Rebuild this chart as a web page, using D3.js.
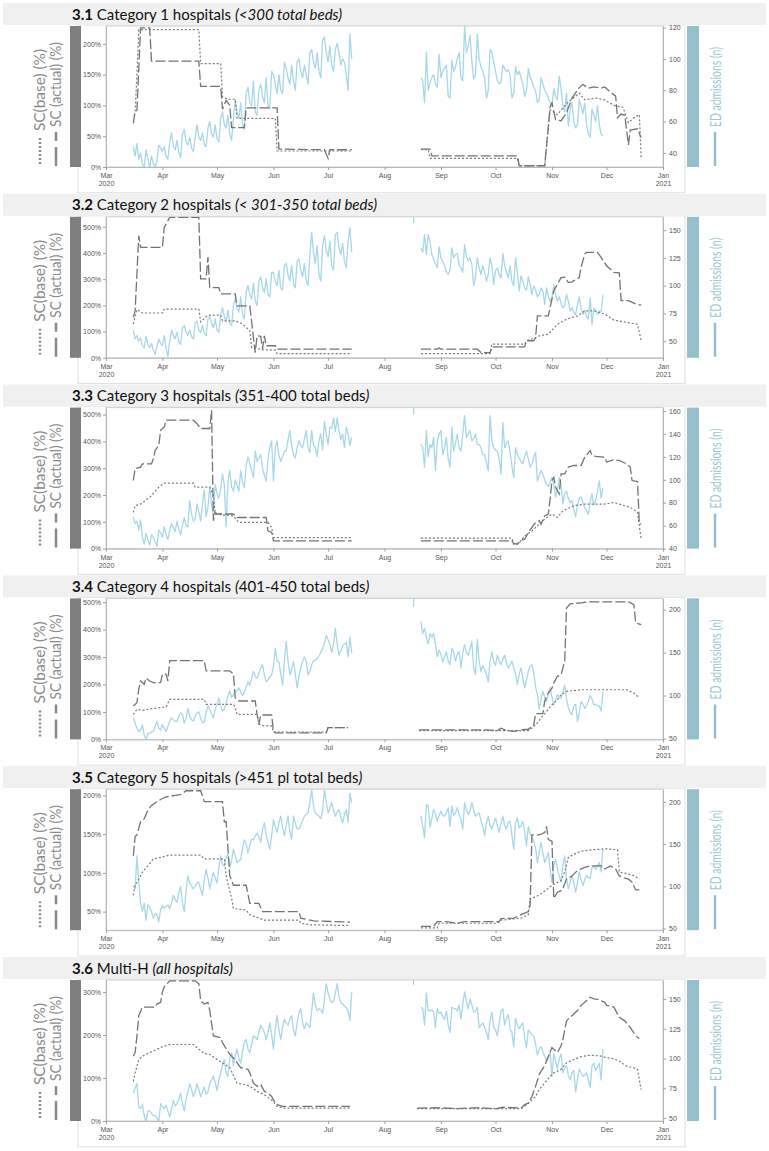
<!DOCTYPE html>
<html>
<head>
<meta charset="utf-8">
<script src="https://cdn.jsdelivr.net/npm/d3@7/dist/d3.min.js"></script>
<style>
  body { margin: 0; background: #fff; }
  svg { display: block; font-family: Lato, "Open Sans", sans-serif; }
</style>
</head>
<body>
<svg id="chart" width="769" height="1151"></svg>
<script>
// ---------- panel labels ----------
const panelIds = ["3.1", "3.2", "3.3", "3.4", "3.5", "3.6"];
const panelNames = ["Category 1 hospitals", "Category 2 hospitals", "Category 3 hospitals",
                    "Category 4 hospitals", "Category 5 hospitals", "Multi-H"];
// [text, italic]
const panelNotes = [
  [["(<300 total beds)", true]],
  [["(< 301-350 total beds)", true]],
  [["(", true], ["351-400 total beds", false], [")", true]],
  [["(", true], ["401-450 total beds", false], [")", true]],
  [["(", true], [">451 pl total beds", false], [")", true]],
  [["(all hospitals)", true]]
];

// ---------- axes ----------
const scDomains = [[0, 229], [0, 538], [0, 526], [0, 514], [26, 208], [0, 328]];
const scTicks = [[0, 50, 100, 150, 200], [0, 100, 200, 300, 400, 500], [0, 100, 200, 300, 400, 500],
                 [0, 100, 200, 300, 400, 500], [50, 100, 150, 200], [0, 100, 200, 300]];
const edDomains = [[31, 121], [35, 162], [40, 163], [49, 213], [48, 215], [47.5, 166]];
const edTicks = [[40, 60, 80, 100, 120], [50, 75, 100, 125, 150], [40, 60, 80, 100, 120, 140, 160],
                 [50, 100, 150, 200], [50, 100, 150, 200], [50, 75, 100, 125, 150]];

// ---------- ED admissions (n), daily ----------
const edSpringStart = "2020-03-16";
const edAutumnStart = "2020-08-21";
const edStrayDay = "2020-08-17";
const edStray = [null, 156, 157, 203, null, 162];

const ed1Spring = [44,38,46,36,40,33,31, 42,36,31,38,33,31,35, 45,43,41,44,38,36,47, 53,44,42,48,40,37,52,
  55,47,45,50,43,41,50, 58,50,48,53,45,44,56, 60,52,50,58,49,47,62, 66,58,56,64,52,48,62,
  74,66,62,72,58,55,78, 82,72,70,86,66,64,80, 84,76,72,88,70,68,92, 90,84,78,90,80,78,98,
  94,88,84,96,86,80,98, 100,92,88,96,90,84,104, 106,98,94,104,92,88,112, 114,104,98,108,96,92,106,
  110,104,96,100,98,90,80, 116,100];
const ed1Autumn = [88,86,72,104,80,85,88, 90,84,82,103,88,92,94, 96,76,75,99,92,95,100, 104,88,86,121,104,108,115,
  98,87,90,116,100,95,92, 88,75,80,106,104,98,92, 86,84,85,96,94,92,93, 90,75,78,95,90,92,88,
  84,76,80,94,88,86,82, 80,72,74,88,84,80,78, 75,72,70,81,76,74,89, 81,70,66,78,57,68,72,
  60,56,58,74,70,65,72, 58,52,50,68,64,60,70, 58,52,51];

const ed2Spring = [60,52,55,50,53,46,44, 54,47,44,48,42,38,45, 52,48,46,55,44,36,50, 60,55,52,58,50,47,62,
  64,58,55,60,54,52,66, 68,60,58,64,57,55,70, 72,66,62,70,60,58,74, 80,72,68,78,66,64,82,
  88,80,76,90,74,70,94, 100,92,88,102,86,82,104, 108,98,94,106,92,90,112, 112,104,100,114,98,96,118,
  120,110,104,118,102,98,122, 124,114,108,120,104,100,128, 148,130,120,136,110,104,136, 145,132,126,140,118,114,146,
  148,134,128,138,122,116,140, 152,130];
const ed2Autumn = [134,130,146,128,146,140,128, 124,120,116,135,125,122,118, 112,110,114,134,125,128,129,
  118,116,112,137,126,122,125, 119,100,108,125,116,110,118, 112,104,110,125,118,101,114,
  116,110,107,129,118,112,107, 118,104,100,125,112,95,109, 104,98,96,108,101,92,100,
  96,90,92,98,95,83,98, 90,86,89,101,92,86,90, 84,80,82,92,86,77,80, 76,74,83,90,80,74,78,
  72,70,89,65,80,78,74, 77,76,92];

const ed3Spring = [68,62,64,56,65,50,44, 53,48,43,52,50,46,42, 56,54,50,59,52,48,56, 62,58,55,64,57,52,60,
  67,60,59,82,70,64,66, 79,72,64,79,91,68,76, 94,78,69,96,88,84,92, 105,96,59,99,108,94,90,
  100,95,90,108,98,93,112, 120,114,108,102,125,116,119, 122,110,104,99,118,128,134, 99,128,134,122,116,120,125,
  125,135,143,130,122,119,128, 134,130,128,136,143,128,124, 143,130,128,120,134,140,126, 151,140,131,146,145,154,142,
  154,143,135,140,128,146,140, 130,137];
const ed3Autumn = [131,128,111,143,120,131,128,137,108,134, 140,143,122,128,137,118,111,146,125,132,
  140,128,125,140,156,137,140,143,134,136, 140,131,131,128,122,122,115,108,156,134,
  128,126,125,118,105,150,128,132,134,124, 112,102,128,122,119,116,114,120,125,118,
  111,114,120,124,99,104,108,105,100,96, 94,98,102,96,85,92,102,96,79,88,
  90,84,80,82,74,68,78,84,85,80, 76,73,70,80,88,78,82,90,99,84, 93];

const ed4Spring = [74,68,62,58,60,66,54,48,56,56, 58,58,64,70,62,60,66,62,58,64,
  70,74,72,70,70,76,80,78,68,74, 85,76,72,70,76,80,81,74,68,70,
  80,88,84,78,74,84,90,97,88,82, 84,92,100,105,98,101,104,106,109,104,
  100,104,110,116,112,120,128,122,120,126, 132,136,124,116,118,122,124,134,155,140,
  139,125,112,140,163,140,124,130,140,125, 109,122,132,140,145,140,124,128,136,140,
  141,143,146,150,155,160,170,165,160,150, 160,178,160,147,152,158,160,162,145,168, 150];
const ed4Autumn = [186,172,178,168,160,172,168,172,160,145, 153,148,139,145,151,140,136,155,150,140,
  148,151,132,150,159,150,147,155,163,132, 124,165,140,128,135,130,125,116,140,151,
  139,135,147,140,136,142,147,138,132,136, 140,132,125,113,125,132,120,109,118,128,
  134,136,126,110,101,84,96,105,98,93, 102,109,98,89,95,101,98,97,104,112,
  96,86,80,78,88,90,70,80,93,90, 85,88,93,100,96,89,90,88,88,82, 104];

const ed5Spring = [101,97,136,105,80,70,80,60,78,75, 70,62,68,66,58,72,77,74,76,78,
  73,80,89,84,81,92,100,80,70,95, 112,104,100,97,100,104,105,96,89,108,
  120,110,97,108,116,110,104,122,136,126, 124,135,138,122,130,144,136,128,130,132,
  145,155,150,140,148,156,155,160,163,158, 152,168,175,160,152,144,160,179,170,164,
  175,183,170,160,172,183,165,156,183,175, 168,168,172,178,183,185,187,200,214,195,
  187,185,183,180,190,214,200,187,192,199, 190,183,188,191,182,175,185,191,176,210, 199];
const ed5Autumn = [183,171,158,197,195,170,180,191,185,177, 184,189,184,183,187,193,171,195,184,187,
  193,185,179,168,199,190,185,189,199,190, 183,185,187,178,171,160,175,183,172,168,
  175,181,172,164,174,183,172,168,176,177, 160,144,175,181,169,172,177,165,148,171,
  162,158,154,145,128,140,152,140,128,134, 140,120,105,125,132,121,112,105,125,136,
  109,97,105,113,104,93,104,117,108,101, 108,113,110,109,122,124,120,124,128,117, 144];

const ed6Spring = [71,75,79,59,58,61,52,47,56,56, 54,52,52,50,47,62,60,58,61,56,
  51,58,65,60,62,66,71,62,56,66, 72,79,74,68,72,79,74,68,72,76,
  70,72,79,82,85,80,73,82,88,95, 99,88,85,100,105,94,102,108,100,96,
  106,114,116,108,105,112,119,118,116,122, 128,125,122,116,122,130,120,108,125,136,
  124,116,126,133,130,128,133,136,124,119, 130,138,142,130,125,130,128,126,140,155,
  145,140,142,141,138,150,163,155,150,147, 148,155,163,152,147,146,144,143,140,132, 156];
const ed6Autumn = [143,142,128,155,140,140,141,139,126,142, 138,139,135,133,140,128,122,143,142,142,
  140,145,133,145,156,148,142,150,145,139, 140,143,126,128,130,126,122,116,132,139,
  126,124,119,130,140,142,128,134,137,125, 122,110,134,128,125,128,130,118,109,124,
  122,120,119,112,103,108,110,106,102,98, 100,106,85,104,98,91,100,104,88,92,
  94,86,82,88,90,72,82,91,88,85, 86,88,82,76,94,96,90,93,96,82, 108];

// ---------- SC(actual) and SC(base), % : [date, value] ----------
const sc1ActualSpring = [["03-16",71],["03-17",90],["03-18",92],["03-20",226],["03-25",226],["03-26",172],["04-21",172],
  ["04-22",131],["05-03",131],["05-04",94],["05-06",108],["05-08",100],["05-09",64],["05-16",64],["05-17",96],
  ["06-03",96],["06-04",29],["06-29",28],["07-01",14],["07-02",28],["07-14",28]];
const sc1BaseSpring = [["03-17",90],["03-18",150],["03-19",223],["04-21",223],["04-22",168],["05-03",168],["05-04",114],
  ["05-07",110],["05-11",110],["05-12",79],["06-02",79],["06-03",26],["07-14",26]];
const sc1ActualAutumn = [["08-21",29],["08-26",29],["08-27",18],["10-13",18],["10-14",2],["10-28",2],["10-31",98],
  ["11-01",104],["11-03",77],["11-06",75],["11-09",88],["11-12",112],["11-16",129],["11-18",134],["11-21",128],
  ["11-24",130],["11-28",128],["11-30",130],["12-03",122],["12-06",115],["12-07",80],["12-09",86],["12-11",84],
  ["12-13",36],["12-14",60],["12-18",62],["12-20",48]];
const sc1BaseAutumn = [["08-21",28],["08-25",28],["08-26",14],["10-13",14],["10-14",2],["10-28",2],["10-31",93],
  ["11-04",85],["11-09",103],["11-16",120],["11-19",109],["11-25",112],["11-30",109],["12-05",100],["12-10",97],
  ["12-13",72],["12-16",80],["12-19",85],["12-20",16]];

const sc2ActualSpring = [["03-16",154],["03-17",180],["03-19",466],["03-20",421],["04-01",421],["04-02",497],["04-05",536],
  ["04-21",536],["04-22",301],["04-25",301],["04-26",384],["04-27",268],["05-02",268],["05-03",244],["05-11",244],
  ["05-12",198],["05-19",198],["05-21",77],["05-22",20],["05-23",84],["05-25",82],["05-26",34],["05-27",84],
  ["05-28",46],["06-02",46],["06-03",33],["07-14",33]];
const sc2BaseSpring = [["03-16",129],["03-18",184],["03-21",171],["04-01",171],["04-02",186],["04-21",186],["04-22",137],
  ["04-26",163],["05-03",163],["05-04",141],["05-11",141],["05-15",129],["05-19",104],["05-20",39],["05-27",30],
  ["06-02",30],["06-03",16],["07-14",16]];
const sc2ActualAutumn = [["08-21",33],["08-30",33],["08-31",37],["09-01",33],["09-21",33],["09-23",20],["09-28",20],
  ["09-29",42],["10-17",42],["10-18",65],["10-22",65],["10-23",77],["10-24",160],["10-30",160],["10-31",192],
  ["11-02",256],["11-06",306],["11-08",308],["11-10",287],["11-12",290],["11-16",306],["11-17",345],["11-19",396],
  ["11-20",402],["11-26",402],["11-28",383],["12-01",351],["12-03",339],["12-05",326],["12-08",324],["12-09",218],
  ["12-13",218],["12-18",202],["12-20",202]];
const sc2BaseAutumn = [["08-21",16],["09-28",16],["09-29",52],["10-17",52],["10-18",65],["10-23",77],["10-25",84],
  ["10-30",90],["11-04",128],["11-09",147],["11-15",160],["11-19",179],["11-24",179],["11-30",167],["12-05",144],
  ["12-12",135],["12-18",128],["12-20",65]];

const sc3ActualSpring = [["03-16",254],["03-17",298],["03-20",304],["03-21",316],["03-26",316],["03-27",335],["03-28",366],
  ["03-30",385],["03-31",441],["04-02",454],["04-03",479],["04-18",479],["04-20",466],["04-22",448],["04-27",448],
  ["04-28",516],["04-29",104],["04-30",135],["05-01",129],["05-10",129],["05-12",116],["05-28",116],["05-29",66],
  ["05-31",60],["06-01",29],["07-14",29]];
const sc3BaseSpring = [["03-16",135],["03-17",160],["03-20",166],["03-25",191],["03-30",229],["04-02",244],["04-18",244],
  ["04-19",229],["04-27",229],["04-28",210],["04-29",198],["04-30",129],["05-10",122],["05-13",98],["05-29",98],
  ["05-31",79],["06-01",41],["07-14",41]];
const sc3ActualAutumn = [["08-21",29],["10-10",29],["10-11",19],["10-13",16],["10-15",31],["10-17",35],["10-19",60],
  ["10-21",79],["10-23",97],["10-25",104],["10-26",91],["10-28",122],["10-30",129],["10-31",185],["11-01",254],
  ["11-02",266],["11-03",229],["11-05",204],["11-06",279],["11-08",279],["11-10",304],["11-13",310],["11-17",310],
  ["11-19",341],["11-22",366],["11-23",348],["11-25",344],["11-30",341],["12-01",323],["12-05",331],["12-08",329],
  ["12-12",316],["12-14",304],["12-15",254],["12-18",250],["12-19",91],["12-20",91]];
const sc3BaseAutumn = [["08-21",39],["10-10",39],["10-11",16],["10-14",22],["10-17",47],["10-21",66],["10-25",91],
  ["10-28",110],["11-01",129],["11-04",116],["11-07",141],["11-13",160],["11-19",166],["11-30",166],["12-05",172],
  ["12-08",166],["12-14",154],["12-18",135],["12-20",35]];

const sc4ActualSpring = [["03-16",122],["03-18",134],["03-19",183],["03-20",213],["03-22",201],["03-23",223],["03-25",213],
  ["03-27",207],["03-31",207],["04-01",238],["04-03",238],["04-04",213],["04-05",287],["04-24",287],["04-25",250],
  ["05-08",250],["05-10",238],["05-11",152],["05-13",140],["05-22",140],["05-23",91],["05-24",55],["05-25",89],
  ["05-31",89],["06-01",30],["06-02",24],["06-30",24],["07-01",43],["07-12",43]];
const sc4BaseSpring = [["03-16",91],["03-18",110],["03-21",106],["03-27",113],["04-03",118],["04-05",146],["04-24",146],
  ["04-25",128],["05-10",128],["05-11",116],["05-12",91],["05-23",91],["05-24",55],["05-27",49],["05-31",49],
  ["06-01",27],["06-30",27],["07-01",43],["07-12",43]];
const sc4ActualAutumn = [["08-20",35],["09-26",35],["10-02",32],["10-04",41],["10-07",32],["10-11",29],["10-15",35],
  ["10-19",37],["10-22",53],["10-23",94],["10-27",94],["10-28",139],["10-30",169],["11-01",187],["11-02",206],
  ["11-04",230],["11-06",236],["11-08",285],["11-09",479],["11-11",494],["11-17",498],["11-21",501],["12-13",501],
  ["12-16",491],["12-17",425],["12-20",418]];
const sc4BaseAutumn = [["08-20",32],["10-19",32],["10-22",47],["10-24",60],["10-26",78],["10-29",102],["11-01",126],
  ["11-04",145],["11-06",163],["11-09",175],["11-13",178],["11-17",181],["12-12",181],["12-16",169],["12-19",151]];

const sc5ActualSpring = [["03-16",122],["03-17",147],["03-18",149],["03-20",166],["03-22",170],["03-24",181],["03-26",187],
  ["03-29",192],["04-01",196],["04-03",198],["04-08",200],["04-11",201],["04-14",206],["04-22",206],["04-24",192],
  ["05-04",192],["05-05",166],["05-06",166],["05-08",96],["05-10",84],["05-17",84],["05-19",60.5],["05-24",60.5],
  ["05-26",50],["06-15",50],["06-16",41.5],["06-21",39],["06-23",38],["07-13",36.5]];
const sc5BaseSpring = [["03-16",71],["03-17",84],["03-19",92],["03-21",101],["03-24",109],["03-27",118],["03-31",120],
  ["04-05",123],["04-22",123],["04-24",118],["05-05",118],["05-06",96],["05-09",67],["05-10",54],["05-17",52],
  ["05-19",46],["05-27",39],["06-15",39],["06-16",35],["06-21",33],["07-13",32]];
const sc5ActualAutumn = [["08-21",31],["08-28",31],["08-30",37],["09-04",37],["09-10",35],["09-14",37],["10-03",37],
  ["10-04",41],["10-11",41.5],["10-15",46],["10-19",50],["10-20",58],["10-21",149],["10-25",149],["10-28",152],
  ["10-29",160],["10-30",143],["11-01",141],["11-02",67],["11-04",75],["11-06",77],["11-07",80],["11-09",92],
  ["11-12",96],["11-15",103],["11-19",107],["11-22",109],["11-28",109],["11-30",105],["12-03",109],["12-06",105],
  ["12-08",96],["12-10",94],["12-13",92],["12-15",88],["12-17",78],["12-19",78]];
const sc5BaseAutumn = [["08-21",29],["08-30",29],["08-31",35],["10-02",35],["10-04",39],["10-15",41.5],["10-19",46],
  ["10-20",67],["10-23",69],["10-26",73],["10-30",80],["11-01",84],["11-06",90],["11-08",101],["11-10",120],
  ["11-13",124],["11-17",128],["11-24",130],["12-01",131],["12-07",130],["12-08",101],["12-12",99],["12-16",96.5],
  ["12-19",92]];

const sc6ActualSpring = [["03-16",151],["03-17",159],["03-18",198],["03-19",245],["03-21",265],["03-28",265],["03-29",272],
  ["03-31",276],["04-01",300],["04-02",312],["04-05",326],["04-19",326],["04-21",319],["04-22",280],["04-24",272],
  ["04-26",276],["04-27",257],["04-29",198],["05-03",194],["05-04",182],["05-08",155],["05-10",147],["05-14",124],
  ["05-18",120],["05-19",112],["05-21",88],["05-23",81],["05-25",85],["05-27",69],["05-29",65],["05-31",57],
  ["06-01",49],["06-03",38],["06-06",34],["07-13",34]];
const sc6BaseSpring = [["03-16",92],["03-17",112],["03-19",143],["03-21",151],["03-25",159],["03-31",171],["04-05",178],
  ["04-18",178],["04-21",167],["04-24",157],["04-27",155],["05-01",143],["05-04",135],["05-08",124],["05-12",88],
  ["05-16",85],["05-19",81],["05-23",69],["05-27",61],["05-31",49],["06-03",34],["06-06",30],["07-13",30]];
const sc6ActualAutumn = [["08-19",30],["08-29",31],["09-10",29],["09-22",31],["10-01",28],["10-05",32],["10-15",30],
  ["10-17",38],["10-19",41.5],["10-21",57],["10-23",81],["10-25",108],
  ["10-26",116],["10-28",128],["10-30",151],["11-01",171],["11-02",167],["11-04",159],["11-06",175],["11-07",190],
  ["11-09",233],["11-11",241],["11-13",249],["11-15",257],["11-17",269],["11-19",276],["11-21",284],["11-22",288],
  ["11-24",284],["11-26",283],["11-30",276],["12-01",269],["12-05",265],["12-08",241],["12-11",233],["12-14",218],
  ["12-17",198],["12-19",192]];
const sc6BaseAutumn = [["08-19",29],["10-15",29],["10-17",34],["10-20",45],["10-23",57],["10-25",73],["10-28",88.5],
  ["10-31",104],["11-02",112],["11-06",120],["11-09",135.5],["11-13",143],["11-17",149.6],["11-21",152.7],
  ["11-24",152.7],["11-28",151],["12-01",147],["12-05",145],["12-08",139],["12-12",127.6],["12-16",123.7],
  ["12-18",120],["12-20",73]];

// table built from the arrays above
const panels = [
  { ed: [ed1Spring, ed1Autumn], actual: [sc1ActualSpring, sc1ActualAutumn], base: [sc1BaseSpring, sc1BaseAutumn] },
  { ed: [ed2Spring, ed2Autumn], actual: [sc2ActualSpring, sc2ActualAutumn], base: [sc2BaseSpring, sc2BaseAutumn] },
  { ed: [ed3Spring, ed3Autumn], actual: [sc3ActualSpring, sc3ActualAutumn], base: [sc3BaseSpring, sc3BaseAutumn] },
  { ed: [ed4Spring, ed4Autumn], actual: [sc4ActualSpring, sc4ActualAutumn], base: [sc4BaseSpring, sc4BaseAutumn] },
  { ed: [ed5Spring, ed5Autumn], actual: [sc5ActualSpring, sc5ActualAutumn], base: [sc5BaseSpring, sc5BaseAutumn] },
  { ed: [ed6Spring, ed6Autumn], actual: [sc6ActualSpring, sc6ActualAutumn], base: [sc6BaseSpring, sc6BaseAutumn] }
];

// ---------- layout ----------
const svg = d3.select("#chart");
const parseDay = d3.timeParse("%Y-%m-%d");
const md = s => parseDay("2020-" + s);

const xLeft = 106, xRight = 663;
const firstTop = 3, panelStep = 190.8, bandH = 22, plotGap = 23, plotH = 141;

const x = d3.scaleTime()
  .domain([new Date(2020, 2, 1), new Date(2021, 0, 1)])
  .range([xLeft, xRight]);

const colActual = "#737373", colBase = "#7a7a7a", colEd = "#a8d7e8";

function styleAxis(g) {
  g.select(".domain").attr("stroke", "#b8b8b8");
  g.selectAll(".tick line").attr("stroke", "#a0a0a0");
  g.selectAll(".tick text")
    .attr("fill", "#555")
    .style("font-family", "'Liberation Sans', Arial, sans-serif")
    .style("font-size", "7px");
}

panels.forEach((p, i) => {
  const top = firstTop + i * panelStep;
  const plotTop = top + plotGap, plotBot = plotTop + plotH;
  const g = svg.append("g").attr("class", "panel");

  // white box and grey title band
  g.append("rect").attr("x", 78).attr("y", top + bandH).attr("width", 607).attr("height", panelStep - bandH - 1)
    .attr("fill", "#fff").attr("stroke", "#dedede");
  g.append("rect").attr("x", 3).attr("y", top).attr("width", 763).attr("height", bandH).attr("fill", "#f0f0f0");

  const title = g.append("text").attr("x", 72).attr("y", top + 16.5)
    .style("font-size", "15px").attr("fill", "#111");
  title.append("tspan").attr("font-weight", "bold").text(panelIds[i]);
  title.append("tspan").text(" " + panelNames[i] + " ");
  panelNotes[i].forEach(([t, it]) => {
    title.append("tspan").attr("font-style", it ? "italic" : "normal").text(t);
  });

  // side bars
  g.append("rect").attr("x", 70).attr("y", plotTop).attr("width", 11).attr("height", plotH).attr("fill", "#7f7f7f");
  g.append("rect").attr("x", 687).attr("y", plotTop).attr("width", 12).attr("height", plotH).attr("fill", "#95bfcc");

  // frame
  g.append("rect").attr("x", xLeft).attr("y", plotTop).attr("width", xRight - xLeft).attr("height", plotH)
    .attr("fill", "none").attr("stroke", "#cfcfcf");

  const yL = d3.scaleLinear().domain(scDomains[i]).range([plotBot, plotTop]);
  const yR = d3.scaleLinear().domain(edDomains[i]).range([plotBot, plotTop]);

  g.append("g").attr("transform", `translate(${xLeft},0)`)
    .call(d3.axisLeft(yL).tickValues(scTicks[i]).tickSize(3).tickSizeOuter(0).tickPadding(2).tickFormat(d => d + "%"))
    .call(styleAxis);
  g.append("g").attr("transform", `translate(${xRight},0)`)
    .call(d3.axisRight(yR).tickValues(edTicks[i]).tickSize(3).tickSizeOuter(0).tickPadding(3))
    .call(styleAxis);
  const xa = g.append("g").attr("transform", `translate(0,${plotBot})`)
    .call(d3.axisBottom(x).ticks(d3.timeMonth.every(1)).tickSize(3).tickSizeOuter(0).tickPadding(3)
      .tickFormat(d3.timeFormat("%b")))
    .call(styleAxis);
  xa.selectAll(".tick text").each(function(d) {
    if (d.getMonth() === 2 || d.getMonth() === 0) {
      d3.select(this).append("tspan").attr("x", 0).attr("dy", "1.15em").text(d.getFullYear());
    }
  });

  // clip
  const clipId = "clip" + i;
  g.append("clipPath").attr("id", clipId).append("rect")
    .attr("x", xLeft).attr("y", plotTop).attr("width", xRight - xLeft).attr("height", plotH);
  const plot = g.append("g").attr("clip-path", `url(#${clipId})`);

  // ED admissions
  const edLine = d3.line().x(d => x(d[0])).y(d => yR(d[1]));
  [edSpringStart, edAutumnStart].forEach((start, k) => {
    const s = parseDay(start);
    const pts = p.ed[k].map((v, j) => [d3.timeDay.offset(s, j), v]);
    plot.append("path").datum(pts).attr("d", edLine)
      .attr("fill", "none").attr("stroke", colEd).attr("stroke-width", 1.3).attr("stroke-linejoin", "round");
  });
  if (edStray[i] != null) {
    const sd = parseDay(edStrayDay);
    plot.append("path").datum([[sd, edStray[i]], [sd, edDomains[i][1]]]).attr("d", edLine)
      .attr("fill", "none").attr("stroke", colEd).attr("stroke-width", 1.3);
  }

  // SC lines
  const scLine = d3.line().x(d => x(md(d[0]))).y(d => yL(d[1]));
  p.base.forEach(seg => {
    plot.append("path").datum(seg).attr("d", scLine)
      .attr("fill", "none").attr("stroke", colBase).attr("stroke-width", 1.2).attr("stroke-dasharray", "2,2");
  });
  p.actual.forEach(seg => {
    plot.append("path").datum(seg).attr("d", scLine)
      .attr("fill", "none").attr("stroke", colActual).attr("stroke-width", 1.3).attr("stroke-dasharray", "10,3");
  });

  // side titles with line keys
  const keyBot = plotBot - 1;
  g.append("line").attr("x1", 40).attr("x2", 40).attr("y1", keyBot - 2).attr("y2", keyBot - 30)
    .attr("stroke", "#8a8a8a").attr("stroke-width", 2.5).attr("stroke-dasharray", "2,2");
  g.append("text").attr("transform", `translate(45,${keyBot - 35}) rotate(-90)`)
    .attr("textLength", 82).attr("lengthAdjust", "spacingAndGlyphs")
    .style("font-size", "15px").attr("fill", "#8a8a8a").text("SC(base) (%)");
  g.append("line").attr("x1", 56).attr("x2", 56).attr("y1", keyBot).attr("y2", keyBot - 34)
    .attr("stroke", "#8a8a8a").attr("stroke-width", 2.5).attr("stroke-dasharray", "19,6");
  g.append("text").attr("transform", `translate(61,${keyBot - 39}) rotate(-90)`)
    .attr("textLength", 85).attr("lengthAdjust", "spacingAndGlyphs")
    .style("font-size", "15px").attr("fill", "#8a8a8a").text("SC (actual) (%)");

  g.append("line").attr("x1", 715).attr("x2", 715).attr("y1", keyBot).attr("y2", keyBot - 34)
    .attr("stroke", "#95bfcc").attr("stroke-width", 2.5);
  g.append("text").attr("transform", `translate(721,${keyBot - 39}) rotate(-90)`)
    .attr("textLength", 80).attr("lengthAdjust", "spacingAndGlyphs")
    .style("font-size", "15px").attr("fill", "#9cc8d6").text("ED admissions (n)");
});
</script>
</body>
</html>
